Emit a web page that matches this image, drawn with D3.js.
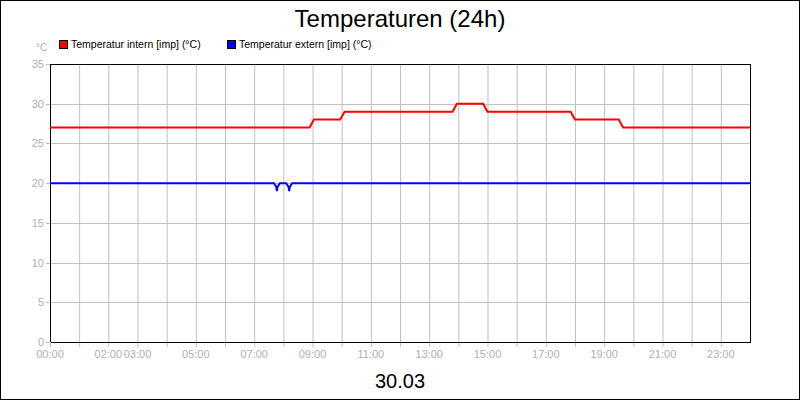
<!DOCTYPE html>
<html><head><meta charset="utf-8">
<script src="https://cdn.jsdelivr.net/npm/d3@7"></script>
<style>body{margin:0;background:#fff}svg{display:block}</style>
</head><body>
<svg id="c" width="800" height="400"></svg>
<script>
// hours since 00:00 and temperatures (°C)
var internHours = [0, 8.9, 9.05, 9.95, 10.1, 13.8, 13.95, 14.85, 15.0, 17.85, 18.0, 19.5, 19.65, 24];
var internTemps = [27, 27, 28, 28, 29, 29, 30, 30, 29, 29, 28, 28, 27, 27];
var externHours = [0, 7.68, 7.76, 7.78, 7.8, 7.88, 8.1, 8.18, 8.2, 8.22, 8.3, 24];
var externTemps = [20, 20, 19.5, 19.0, 19.5, 20, 20, 19.5, 19.0, 19.5, 20, 20];
var tickHours = [0, 2, 3, 5, 7, 9, 11, 13, 15, 17, 19, 21, 23];
var tickLabels = ["00:00", "02:00", "03:00", "05:00", "07:00", "09:00", "11:00", "13:00", "15:00", "17:00", "19:00", "21:00", "23:00"];
var yTicks = [0, 5, 10, 15, 20, 25, 30, 35];
var seriesNames = ["Temperatur intern [imp] (°C)", "Temperatur extern [imp] (°C)"];
var seriesColors = ["#ff0000", "#0000ff"];

var svg = d3.select("#c");
var L = 50, R = 750, T = 64, B = 342;
var x = d3.scaleLinear().domain([0, 24]).range([L, R]);
var y = d3.scaleLinear().domain([0, 35]).range([B, T]);
var font = "Liberation Sans, Arial, sans-serif";

svg.append("rect").attr("x", 0.5).attr("y", 0.5).attr("width", 799).attr("height", 399)
  .attr("fill", "#fff").attr("stroke", "#000");

// grid
svg.append("g").selectAll("line").data(d3.range(1, 24)).enter().append("line")
  .attr("x1", d => x(d) + 0.5).attr("x2", d => x(d) + 0.5).attr("y1", T).attr("y2", B + 5)
  .attr("stroke", "#c0c0c0");
svg.append("g").selectAll("line").data(yTicks.slice(1, -1)).enter().append("line")
  .attr("x1", L - 4).attr("x2", R).attr("y1", d => Math.round(y(d)) + 0.5).attr("y2", d => Math.round(y(d)) + 0.5)
  .attr("stroke", "#c0c0c0");

// frame
svg.append("rect").attr("x", L + 0.5).attr("y", T + 0.5).attr("width", R - L).attr("height", B - T)
  .attr("fill", "none").attr("stroke", "#000");
svg.append("line").attr("x1", L - 4).attr("x2", L).attr("y1", B + 0.5).attr("y2", B + 0.5).attr("stroke", "#c0c0c0");
svg.append("line").attr("x1", L - 4).attr("x2", L).attr("y1", T + 0.5).attr("y2", T + 0.5).attr("stroke", "#c0c0c0");
svg.append("line").attr("x1", L + 0.5).attr("x2", L + 0.5).attr("y1", B).attr("y2", B + 5).attr("stroke", "#c0c0c0");

// y labels
svg.append("g").selectAll("text").data(yTicks).enter().append("text")
  .attr("x", L - 6).attr("y", d => y(d) + 4).attr("text-anchor", "end")
  .attr("font-family", font).attr("font-size", 11).attr("fill", "#b0b0b0").text(d => d);
svg.append("text").attr("x", 36).attr("y", 51).attr("font-family", font).attr("font-size", 10)
  .attr("fill", "#b0b0b0").text("°C");

// x labels
svg.append("g").selectAll("text").data(tickHours).enter().append("text")
  .attr("x", d => x(d)).attr("y", B + 16).attr("text-anchor", "middle")
  .attr("font-family", font).attr("font-size", 11).attr("fill", "#b0b0b0")
  .text((d, i) => tickLabels[i]);

// lines
var line = d3.line().x(d => x(d[0])).y(d => y(d[1]));
svg.append("path").datum(internHours.map((h, i) => [h, internTemps[i]]))
  .attr("d", line).attr("fill", "none").attr("stroke", seriesColors[0]).attr("stroke-width", 2);
svg.append("path").datum(externHours.map((h, i) => [h, externTemps[i]]))
  .attr("d", line).attr("fill", "none").attr("stroke", seriesColors[1]).attr("stroke-width", 2);

// title and date
svg.append("text").attr("x", 400).attr("y", 27).attr("text-anchor", "middle")
  .attr("font-family", font).attr("font-size", 24).text("Temperaturen (24h)");
svg.append("text").attr("x", 400).attr("y", 388).attr("text-anchor", "middle")
  .attr("font-family", font).attr("font-size", 20).text("30.03");

// legend
var lx = [59, 227];
seriesNames.forEach(function(n, i) {
  svg.append("rect").attr("x", lx[i] + 0.5).attr("y", 40.5).attr("width", 8).attr("height", 8)
    .attr("fill", seriesColors[i]).attr("stroke", "#000");
  svg.append("text").attr("x", lx[i] + 12).attr("y", 48).attr("font-family", font)
    .attr("font-size", 10.5).text(n);
});
</script>
</body></html>
